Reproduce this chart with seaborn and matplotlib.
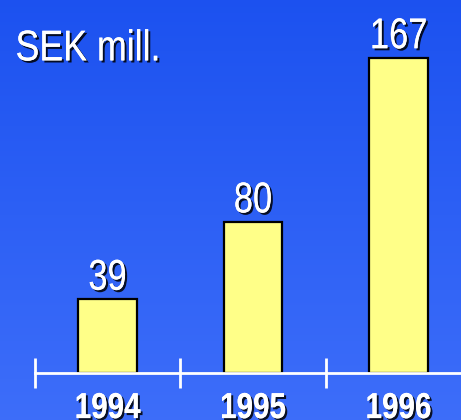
import numpy as np
import pandas as pd
import matplotlib
matplotlib.use("Agg")
import matplotlib.pyplot as plt
import matplotlib.patheffects as pe
from matplotlib.transforms import Affine2D
import seaborn as sns

years = ["1994", "1995", "1996"]
values = [39, 80, 167]
unit_label = "SEK mill."

sns.set_theme(style="white")
plt.rcParams["font.family"] = ["Liberation Sans", "DejaVu Sans"]


class Squeeze(pe.AbstractPathEffect):
    """Horizontally condense text (emulates a narrow font) around an anchor."""

    def __init__(self, inner, sx=0.82, anchor="center"):
        super().__init__()
        self.inner = inner
        self.sx = sx
        self.anchor = anchor

    def draw_path(self, renderer, gc, tpath, affine, rgbFace=None):
        ext = tpath.get_extents()
        cx = ext.x0 if self.anchor == "left" else 0.5 * (ext.x0 + ext.x1)
        sq = Affine2D().translate(-cx, 0).scale(self.sx, 1).translate(cx, 0)
        self.inner.draw_path(renderer, gc, tpath, sq + affine, rgbFace)


def effects(sx, anchor="center"):
    return [Squeeze(pe.withSimplePatchShadow(offset=(1.5, -1.5), shadow_rgbFace="black", alpha=0.85), sx, anchor),
            Squeeze(pe.Normal(), sx, anchor)]


fig = plt.figure(figsize=(4.61, 4.20), dpi=100)

# gradient background
bg = fig.add_axes([0, 0, 1, 1], zorder=0)
grad = np.linspace(0, 1, 256).reshape(-1, 1)
top = np.array([0.11, 0.32, 0.94])
bot = np.array([0.24, 0.43, 0.98])
img = top[None, None, :] * (1 - grad[:, :, None]) + bot[None, None, :] * grad[:, :, None]
bg.imshow(img, aspect="auto", extent=(0, 1, 0, 1), origin="upper")
bg.set_axis_off()

ax = fig.add_axes([0, 0, 1, 1], zorder=1)
ax.patch.set_visible(False)

df = pd.DataFrame({"year": years, "value": values})
sns.barplot(data=df, x="year", y="value", color="#FFFF88", saturation=1,
            width=0.405, edgecolor="black", linewidth=1.6, ax=ax)

for c in ax.containers:
    labels = ax.bar_label(c, padding=0.5, fontsize=31, color="white")
    for t in labels:
        t.set_path_effects(effects(0.8))

ax.set_xlim(-0.739, 2.43)
ax.set_ylim(-24.9, 197.7)

for s in ["top", "right", "left"]:
    ax.spines[s].set_visible(False)
ax.spines["bottom"].set_position(("data", 0))
ax.spines["bottom"].set_bounds(-0.5, 2.43)
ax.spines["bottom"].set_color("white")
ax.spines["bottom"].set_linewidth(2)

ax.set_yticks([])
ax.set_xticks(range(len(years)))
ax.set_xticklabels(years)
ax.set_xticks([i - 0.5 for i in range(len(years))], minor=True)
ax.tick_params(axis="x", which="major", length=0, pad=13, labelsize=26,
               labelcolor="white")
ax.tick_params(axis="x", which="minor", direction="inout", length=22, width=2,
               color="white", bottom=True)
for t in ax.get_xticklabels():
    t.set_fontweight("bold")
    t.set_path_effects(effects(0.82))
ax.set_xlabel("")
ax.set_ylabel("")

ax.text(0.033, 0.93, unit_label, transform=ax.transAxes, fontsize=31, color="white",
        ha="left", va="top", path_effects=effects(0.83, "left"))

fig.savefig("out.png", dpi=100)
